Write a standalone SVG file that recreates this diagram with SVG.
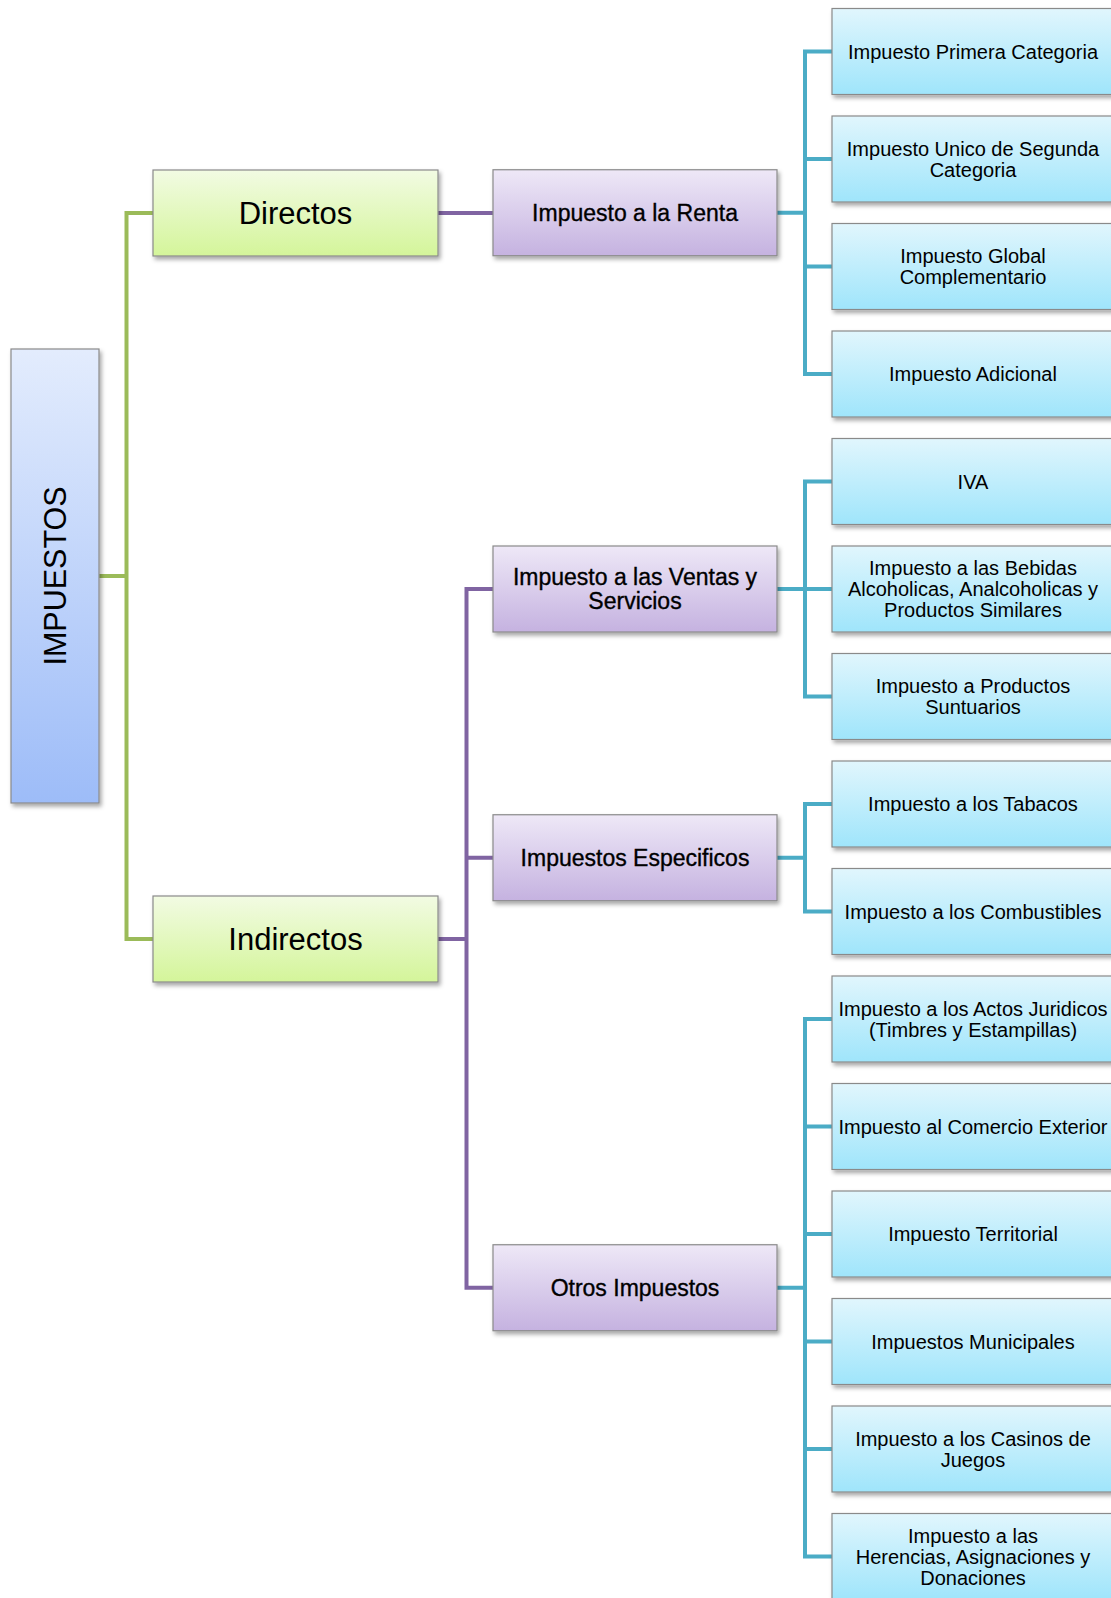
<svg xmlns="http://www.w3.org/2000/svg" width="1111" height="1598" viewBox="0 0 1111 1598">
<defs>
<linearGradient id="gRoot" x1="0" y1="0" x2="0" y2="1"><stop offset="0" stop-color="#E3ECFD"/><stop offset="1" stop-color="#9DBCF8"/></linearGradient>
<linearGradient id="gGreen" x1="0" y1="0" x2="0" y2="1"><stop offset="0" stop-color="#F2FBE3"/><stop offset="1" stop-color="#D4F59A"/></linearGradient>
<linearGradient id="gPurple" x1="0" y1="0" x2="0" y2="1"><stop offset="0" stop-color="#EEE8F7"/><stop offset="1" stop-color="#C5B2E0"/></linearGradient>
<linearGradient id="gBlue" x1="0" y1="0" x2="0" y2="1"><stop offset="0" stop-color="#E1F6FD"/><stop offset="1" stop-color="#9FE5FB"/></linearGradient>
<filter id="sh" x="-10%" y="-10%" width="130%" height="140%"><feDropShadow dx="2" dy="3" stdDeviation="2" flood-color="#000" flood-opacity="0.35"/></filter>
</defs>
<style>
.box{stroke:#8a8a8a;stroke-width:1.2;filter:url(#sh)}
.root{fill:url(#gRoot)}
.l1{fill:url(#gGreen)}
.l2{fill:url(#gPurple)}
.l3{fill:url(#gBlue)}
text{font-family:"Liberation Sans",Arial,sans-serif;fill:#000;text-anchor:middle}
.t0{font-size:30.5px}
.t1{font-size:31px}
.t2{font-size:23px;stroke:#000;stroke-width:0.35}
.t3{font-size:20px}
.cg{fill:none;stroke:#9BBB59;stroke-width:4}
.cp{fill:none;stroke:#8064A2;stroke-width:4}
.cb{fill:none;stroke:#4BACC6;stroke-width:4}
</style>
<rect width="1111" height="1598" fill="#fff"/>
<g id="connectors">
<path class="cg" d="M99 576H126.5M153 213H126.5V939H153"/>
<path class="cp" d="M438 213H493"/>
<path class="cp" d="M438 939H466.5M493 589H466.5V1287.75H493M466.5 857.75H493"/>
<path class="cb" d="M777 212.75H805M832 51.5H805V374H832M805 159H832M805 266.5H832"/>
<path class="cb" d="M777 589H805M832 481.5H805V696.5H832M805 589H832"/>
<path class="cb" d="M777 857.75H805M832 804H805V911.5H832"/>
<path class="cb" d="M777 1287.75H805M832 1019H805V1556.5H832M805 1126.5H832M805 1234H832M805 1341.5H832M805 1449H832"/>
</g>
<g id="impuestos"><rect class="box root" x="11" y="349" width="88" height="454"/><text class="t0" transform="translate(55,576) rotate(-90)" x="0" y="11">IMPUESTOS</text></g>
<g id="directos"><rect class="box l1" x="153" y="170" width="285" height="86"/><text class="t1" x="295.5" y="224">Directos</text></g>
<g id="indirectos"><rect class="box l1" x="153" y="896" width="285" height="86"/><text class="t1" x="295.5" y="950">Indirectos</text></g>
<g id="renta"><rect class="box l2" x="493" y="169.75" width="284" height="86"/><text class="t2" x="635" y="221">Impuesto a la Renta</text></g>
<g id="ventas"><rect class="box l2" x="493" y="546" width="284" height="86"/><text class="t2" x="635" y="585">Impuesto a las Ventas y</text><text class="t2" x="635" y="609">Servicios</text></g>
<g id="especificos"><rect class="box l2" x="493" y="814.75" width="284" height="86"/><text class="t2" x="635" y="866">Impuestos Especificos</text></g>
<g id="otros"><rect class="box l2" x="493" y="1244.75" width="284" height="86"/><text class="t2" x="635" y="1296">Otros Impuestos</text></g>
<g id="b0"><rect class="box l3" x="832" y="8.5" width="290" height="86"/><text class="t3" x="973" y="58.5">Impuesto Primera Categoria</text></g>
<g id="b1"><rect class="box l3" x="832" y="116" width="290" height="86"/><text class="t3" x="973" y="155.5">Impuesto Unico de Segunda</text><text class="t3" x="973" y="176.5">Categoria</text></g>
<g id="b2"><rect class="box l3" x="832" y="223.5" width="290" height="86"/><text class="t3" x="973" y="263">Impuesto Global</text><text class="t3" x="973" y="284">Complementario</text></g>
<g id="b3"><rect class="box l3" x="832" y="331" width="290" height="86"/><text class="t3" x="973" y="381">Impuesto Adicional</text></g>
<g id="b4"><rect class="box l3" x="832" y="438.5" width="290" height="86"/><text class="t3" x="973" y="488.5">IVA</text></g>
<g id="b5"><rect class="box l3" x="832" y="546" width="290" height="86"/><text class="t3" x="973" y="575">Impuesto a las Bebidas</text><text class="t3" x="973" y="596">Alcoholicas, Analcoholicas y</text><text class="t3" x="973" y="617">Productos Similares</text></g>
<g id="b6"><rect class="box l3" x="832" y="653.5" width="290" height="86"/><text class="t3" x="973" y="693">Impuesto a Productos</text><text class="t3" x="973" y="714">Suntuarios</text></g>
<g id="b7"><rect class="box l3" x="832" y="761" width="290" height="86"/><text class="t3" x="973" y="811">Impuesto a los Tabacos</text></g>
<g id="b8"><rect class="box l3" x="832" y="868.5" width="290" height="86"/><text class="t3" x="973" y="918.5">Impuesto a los Combustibles</text></g>
<g id="b9"><rect class="box l3" x="832" y="976" width="290" height="86"/><text class="t3" x="973" y="1015.5">Impuesto a los Actos Juridicos</text><text class="t3" x="973" y="1036.5">(Timbres y Estampillas)</text></g>
<g id="b10"><rect class="box l3" x="832" y="1083.5" width="290" height="86"/><text class="t3" x="973" y="1133.5">Impuesto al Comercio Exterior</text></g>
<g id="b11"><rect class="box l3" x="832" y="1191" width="290" height="86"/><text class="t3" x="973" y="1241">Impuesto Territorial</text></g>
<g id="b12"><rect class="box l3" x="832" y="1298.5" width="290" height="86"/><text class="t3" x="973" y="1348.5">Impuestos Municipales</text></g>
<g id="b13"><rect class="box l3" x="832" y="1406" width="290" height="86"/><text class="t3" x="973" y="1445.5">Impuesto a los Casinos de</text><text class="t3" x="973" y="1466.5">Juegos</text></g>
<g id="b14"><rect class="box l3" x="832" y="1513.5" width="290" height="86"/><text class="t3" x="973" y="1542.5">Impuesto a las</text><text class="t3" x="973" y="1563.5">Herencias, Asignaciones y</text><text class="t3" x="973" y="1584.5">Donaciones</text></g>
</svg>
